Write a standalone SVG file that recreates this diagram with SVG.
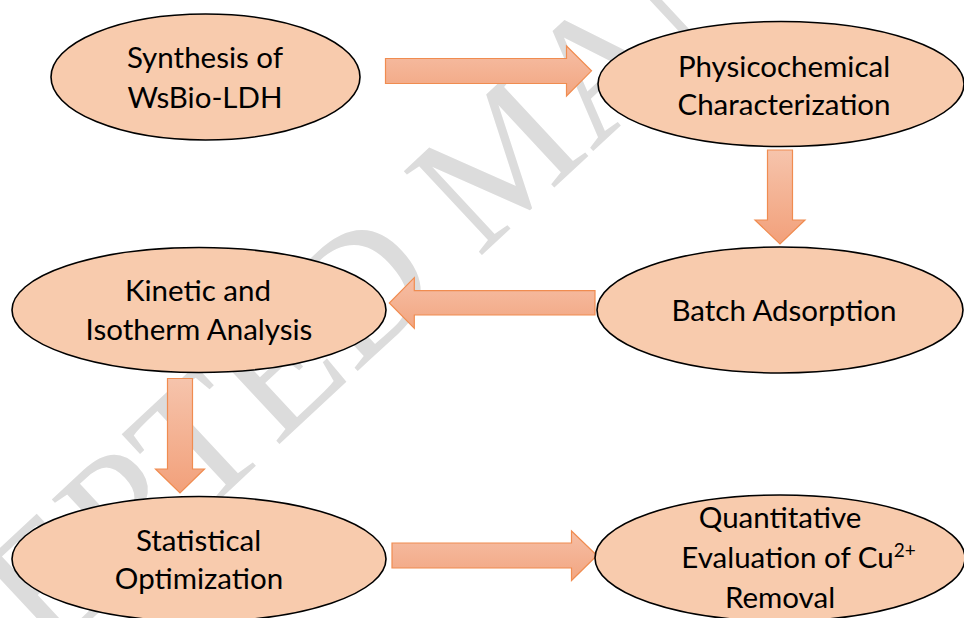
<svg xmlns="http://www.w3.org/2000/svg" width="964" height="618" viewBox="0 0 964 618">
<defs>
<style>
.node ellipse{fill:#f8cbad;stroke:#000;stroke-width:1.6}
.lbl{font-family:Lato,"Liberation Sans",sans-serif;font-size:29.5px;fill:#000;text-anchor:middle}
.arr{stroke:#f08c50;stroke-width:1.2;stroke-linejoin:miter}
.wm{font-family:"Liberation Serif","Times New Roman",serif;font-size:175px;fill:#dcdcdc}
</style>
<linearGradient id="gh" x1="0" y1="0" x2="0" y2="1">
<stop offset="0" stop-color="#f6bea5"/>
<stop offset="1" stop-color="#f2a681"/>
</linearGradient>
<linearGradient id="gv" x1="0" y1="0" x2="0" y2="1">
<stop offset="0" stop-color="#f6c4ac"/>
<stop offset="1" stop-color="#f2a07a"/>
</linearGradient>
</defs>
<rect width="964" height="618" fill="#fff"/>
<g id="watermark">
<text class="wm" transform="translate(-215,905) rotate(-43)">ACCEPTED MANUSCRIPT</text>
</g>
<g id="connectors">
<path class="arr" fill="url(#gh)" d="M385.5,58.5 H566.5 V46 L591.5,70.8 L566.5,96 V83.5 H385.5 Z"/>
<path class="arr" fill="url(#gv)" d="M767.5,150 V220 H755 L780,244 L805,220 H792.5 V150 Z"/>
<path class="arr" fill="url(#gh)" d="M595,290.7 H414.3 V277.7 L389.3,303 L414.3,328.3 V315 H595 Z"/>
<path class="arr" fill="url(#gv)" d="M167.5,378.5 V469 H155.5 L180,493 L204.5,469 H192.5 V378.5 Z"/>
<path class="arr" fill="url(#gh)" d="M392,543 H571.5 V531 L597,555.5 L571.5,580.5 V568 H392 Z"/>
</g>
<g id="n1" class="node">
<ellipse cx="205.5" cy="77" rx="154.5" ry="63"/>
<text class="lbl" x="205" y="68">Synthesis of</text>
<text class="lbl" x="205" y="108">WsBio-LDH</text>
</g>
<g id="n2" class="node">
<ellipse cx="781" cy="84" rx="183" ry="62.5"/>
<text class="lbl" x="784" y="77">Physicochemical</text>
<text class="lbl" x="784" y="115">Characterization</text>
</g>
<g id="n3" class="node">
<ellipse cx="780" cy="310" rx="183" ry="63"/>
<text class="lbl" x="784" y="321">Batch Adsorption</text>
</g>
<g id="n4" class="node">
<ellipse cx="199" cy="310" rx="187" ry="62.5"/>
<text class="lbl" x="198" y="301">Kinetic and</text>
<text class="lbl" x="199" y="340">Isotherm Analysis</text>
</g>
<g id="n5" class="node">
<ellipse cx="199" cy="559" rx="187" ry="62.5"/>
<text class="lbl" x="198.5" y="550.5">Statistical</text>
<text class="lbl" x="199" y="589">Optimization</text>
</g>
<g id="n6" class="node">
<ellipse cx="780" cy="558" rx="185" ry="63"/>
<text class="lbl" x="780" y="528">Quantitative</text>
<text class="lbl" x="798.5" y="568">Evaluation of Cu<tspan font-size="19" dy="-11">2+</tspan></text>
<text class="lbl" x="780" y="608">Removal</text>
</g>
</svg>
